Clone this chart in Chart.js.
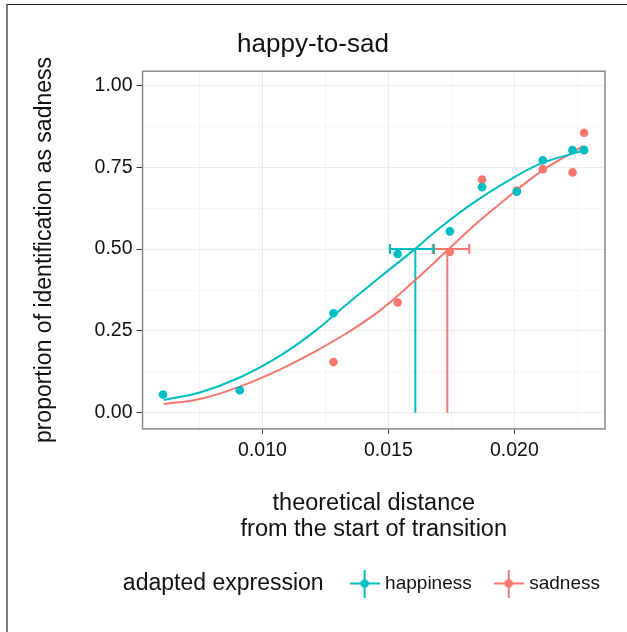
<!DOCTYPE html>
<html>
<head>
<meta charset="utf-8">
<title>happy-to-sad</title>
<script src="https://cdn.jsdelivr.net/npm/chart.js@4.4.1/dist/chart.umd.min.js"></script>
<style>
    html, body { margin: 0; padding: 0; background: #fff; overflow: hidden; }
    #wrap { position: relative; width: 627px; height: 632px; }
    #wrap canvas { position: absolute; left: 0; top: 0; }
    #frame {
        position: absolute; left: 6px; top: 4px; width: 700px; height: 700px;
        border-top: 1px solid #222; border-left: 2px solid #7a7a7a; pointer-events: none;
    }
</style>
</head>
<body>
<div id="wrap">
    <canvas id="happySadChart" width="627" height="632"></canvas>
    <div id="frame"></div>
</div>
<script>
// observed proportions
var happyX = [0.00605, 0.0091, 0.01282, 0.01537, 0.01744, 0.01872, 0.0201, 0.02113, 0.02231, 0.02277];
var happyY = [0.056, 0.069, 0.304, 0.485, 0.554, 0.689, 0.675, 0.771, 0.802, 0.802];
var sadX = [0.01282, 0.01537, 0.01744, 0.01872, 0.0201, 0.02113, 0.02231, 0.02277];
var sadY = [0.155, 0.337, 0.491, 0.712, 0.679, 0.744, 0.734, 0.855];

// fitted curves
var happyFitX = [0.00608, 0.00751, 0.0091, 0.01069, 0.01201, 0.01334, 0.01466, 0.01599, 0.01705, 0.01837, 0.0197, 0.02102, 0.02235, 0.02274];
var happyFitY = [0.039, 0.062, 0.108, 0.174, 0.245, 0.331, 0.414, 0.496, 0.565, 0.641, 0.706, 0.760, 0.792, 0.801];
var sadFitX = [0.00608, 0.00751, 0.0091, 0.01069, 0.01201, 0.01334, 0.01466, 0.01599, 0.01731, 0.01837, 0.0197, 0.02102, 0.02235, 0.02274];
var sadFitY = [0.027, 0.042, 0.080, 0.132, 0.184, 0.243, 0.312, 0.400, 0.494, 0.570, 0.655, 0.735, 0.797, 0.815];

// 50% thresholds and their intervals: happiness, sadness
var threshold = [0.01607, 0.01734];
var ciLow = [0.01506, 0.01676];
var ciHigh = [0.01681, 0.01821];

var seriesNames = ["happiness", "sadness"];
var seriesColors = ["#00BFC4", "#F8766D"];

var xTicks = [0.0075, 0.010, 0.0125, 0.015, 0.0175, 0.020, 0.0225];
var xTickLabels = ["", "0.010", "", "0.015", "", "0.020", ""];
var yTicks = [0, 0.125, 0.25, 0.375, 0.5, 0.625, 0.75, 0.875, 1.0];
var yTickLabels = ["0.00", "", "0.25", "", "0.50", "", "0.75", "", "1.00"];

var FONT = "'Liberation Sans', Arial, Helvetica, sans-serif";
Chart.defaults.font.family = FONT;
Chart.defaults.color = "#111";

function pairs(xs, ys) {
    var out = [];
    for (var i = 0; i < xs.length; i++) {
        out.push({x: xs[i], y: ys[i]});
    }
    return out;
}

function legendMarker(color) {
    var c = document.createElement("canvas");
    c.width = 30;
    c.height = 28;
    var g = c.getContext("2d");
    g.strokeStyle = color;
    g.lineWidth = 2;
    g.beginPath();
    g.moveTo(0, 14); g.lineTo(30, 14);
    g.moveTo(15, 0); g.lineTo(15, 28);
    g.stroke();
    g.fillStyle = color;
    g.beginPath();
    g.arc(15, 14, 4.3, 0, Math.PI * 2);
    g.fill();
    return c;
}

function pointSet(i, xs, ys) {
    return {
        label: seriesNames[i],
        data: pairs(xs, ys),
        backgroundColor: seriesColors[i],
        borderColor: seriesColors[i],
        pointRadius: 4.3,
        pointBorderWidth: 0,
        pointHoverRadius: 4.3
    };
}

function curveSet(i, xs, ys) {
    return {
        label: seriesNames[i] + " fit",
        data: pairs(xs, ys),
        showLine: true,
        borderColor: seriesColors[i],
        borderWidth: 2,
        pointRadius: 0,
        tension: 0.4
    };
}

function vlineSet(i) {
    return {
        label: seriesNames[i] + " threshold",
        data: [{x: threshold[i], y: 0}, {x: threshold[i], y: 0.5}],
        showLine: true,
        borderColor: seriesColors[i],
        borderWidth: 2,
        pointRadius: 0
    };
}

function errorSet(i) {
    return {
        label: seriesNames[i] + " interval",
        data: [{x: ciLow[i], y: 0.5}, {x: ciHigh[i], y: 0.5}],
        showLine: true,
        borderColor: seriesColors[i],
        borderWidth: 2,
        pointStyle: "line",
        rotation: 90,
        pointRadius: 5,
        pointBorderWidth: 2,
        pointBorderColor: seriesColors[i]
    };
}

var panelBorder = {
    id: "panelBorder",
    afterDraw: function (chart) {
        var a = chart.chartArea;
        var ctx = chart.ctx;
        ctx.save();
        ctx.strokeStyle = "#8a8a8a";
        ctx.lineWidth = 1.5;
        ctx.strokeRect(a.left, a.top, a.right - a.left, a.bottom - a.top);
        ctx.restore();
    }
};

var legendTitle = {
    id: "legendTitle",
    afterDraw: function (chart) {
        var boxes = chart.legend.legendHitBoxes;
        if (!boxes || !boxes.length) return;
        var b = boxes[0];
        var ctx = chart.ctx;
        ctx.save();
        ctx.font = "23px " + FONT;
        ctx.fillStyle = "#111";
        ctx.textAlign = "right";
        ctx.textBaseline = "middle";
        ctx.fillText("adapted expression", b.left - 30, b.top + b.height / 2);
        ctx.restore();
    }
};

function gridColor(labels) {
    return function (ctx) {
        return labels[ctx.index] ? "#EBEBEB" : "#F5F5F5";
    };
}
function tickColor(labels) {
    return function (ctx) {
        return labels[ctx.index] ? "#333" : "rgba(0,0,0,0)";
    };
}

var chartElem = document.getElementById("happySadChart");
var happySadChart = new Chart(chartElem, {
    type: "scatter",
    data: {
        datasets: [
            pointSet(0, happyX, happyY),
            pointSet(1, sadX, sadY),
            curveSet(0, happyFitX, happyFitY),
            curveSet(1, sadFitX, sadFitY),
            vlineSet(0),
            vlineSet(1),
            errorSet(0),
            errorSet(1)
        ]
    },
    options: {
        responsive: false,
        animation: false,
        layout: {padding: {top: 29, left: 0, right: 1, bottom: 29}},
        scales: {
            x: {
                type: "linear",
                min: 0.00524,
                max: 0.0236,
                afterBuildTicks: function (scale) {
                    scale.ticks = xTicks.map(function (v) { return {value: v}; });
                },
                ticks: {
                    autoSkip: false,
                    maxRotation: 0,
                    padding: 5,
                    color: "#111",
                    font: {size: 19.5},
                    callback: function (value, index) { return xTickLabels[index]; }
                },
                grid: {color: gridColor(xTickLabels), tickColor: tickColor(xTickLabels), tickLength: 5},
                border: {display: false},
                title: {
                    display: true,
                    text: ["theoretical distance", "from the start of transition"],
                    color: "#111",
                    font: {size: 23.5, lineHeight: 1.1},
                    padding: {top: 23, bottom: 6}
                }
            },
            y: {
                type: "linear",
                min: -0.049,
                max: 1.043,
                afterBuildTicks: function (scale) {
                    scale.ticks = yTicks.map(function (v) { return {value: v}; });
                },
                ticks: {
                    autoSkip: false,
                    padding: 4,
                    color: "#111",
                    font: {size: 19.5},
                    callback: function (value, index) { return yTickLabels[index]; }
                },
                grid: {color: gridColor(yTickLabels), tickColor: tickColor(yTickLabels), tickLength: 6},
                border: {display: false},
                title: {
                    display: true,
                    text: "proportion of identification as sadness",
                    color: "#111",
                    font: {size: 23, lineHeight: 1.2},
                    padding: {top: 31, bottom: 32}
                }
            },
            // empty right-hand axis, only keeps room beside the panel
            yRight: {
                type: "linear",
                position: "right",
                display: true,
                ticks: {display: false},
                grid: {display: false, drawOnChartArea: false},
                border: {display: false},
                afterFit: function (scale) { scale.width = 21; }
            }
        },
        plugins: {
            title: {
                display: true,
                text: "happy-to-sad",
                color: "#111",
                font: {size: 26, weight: "normal", lineHeight: 1.2},
                padding: {top: 0, bottom: 11}
            },
            legend: {
                position: "bottom",
                align: "end",
                labels: {
                    usePointStyle: true,
                    pointStyleWidth: 22,
                    padding: 26,
                    color: "#111",
                    font: {size: 19},
                    filter: function (item) { return item.datasetIndex < 2; },
                    generateLabels: function (chart) {
                        var items = Chart.defaults.plugins.legend.labels.generateLabels(chart);
                        items.forEach(function (it) {
                            if (it.datasetIndex < 2) {
                                it.pointStyle = legendMarker(seriesColors[it.datasetIndex]);
                            }
                        });
                        return items;
                    }
                }
            },
            tooltip: {enabled: false}
        }
    },
    plugins: [panelBorder, legendTitle]
});
</script>
</body>
</html>
